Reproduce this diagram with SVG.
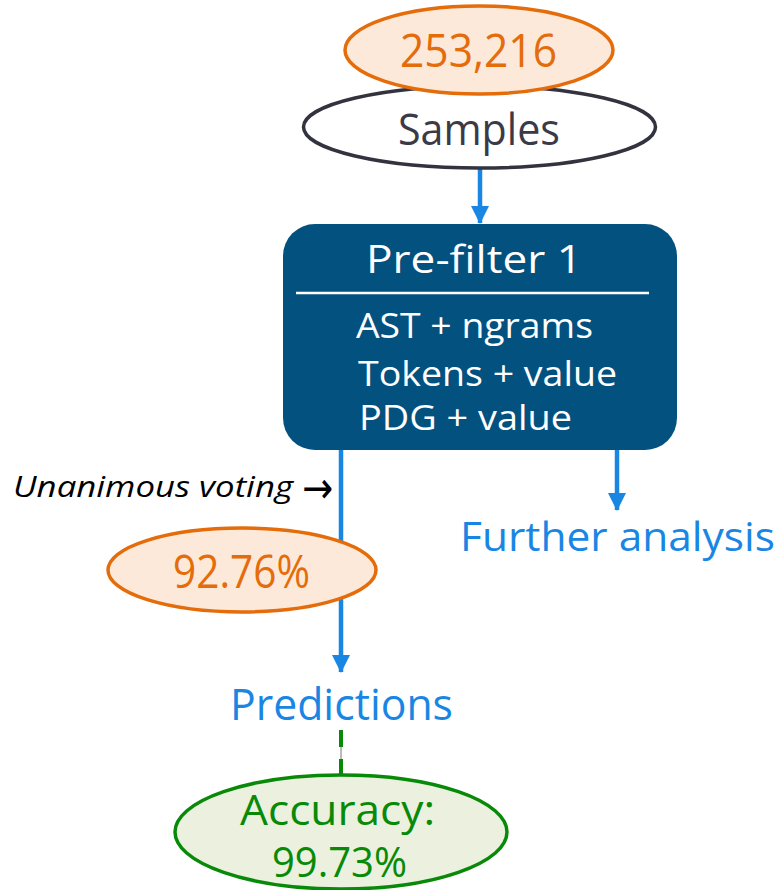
<svg xmlns="http://www.w3.org/2000/svg" width="782" height="890" viewBox="0 0 782 890">
<style>
text{font-family:"Open Sans","Liberation Sans",sans-serif;}
.or{fill:#fde9d9;stroke:#e46c0a;stroke-width:3.5;}
.ort{fill:#e46c0a;}
.blue{stroke:#1a86e4;stroke-width:4.5;fill:none;}
.bt{fill:#1a86e4;}
.wt{fill:#ffffff;}
</style>
<defs>
<marker id="ah" markerUnits="userSpaceOnUse" markerWidth="18" markerHeight="20" refX="17" refY="9" orient="auto">
<path d="M0,0 L18,9 L0,18 Z" fill="#1a86e4"/>
</marker>
</defs>
<g id="connectors">
<line class="blue" x1="480" y1="168" x2="480" y2="223" marker-end="url(#ah)"/>
<line class="blue" x1="341" y1="449" x2="341" y2="672" marker-end="url(#ah)"/>
<line class="blue" x1="617" y1="449" x2="617" y2="510" marker-end="url(#ah)"/>
<line x1="341" y1="730" x2="341" y2="775" stroke="#777777" stroke-width="1"/>
<line x1="341" y1="730" x2="341" y2="775" stroke="#088a08" stroke-width="4" stroke-dasharray="17 12"/>
</g>
<g id="samples">
<ellipse cx="479.5" cy="127" rx="176" ry="41" fill="#ffffff" stroke="#33333f" stroke-width="3.5"/>
<text x="398" y="145" font-size="44" fill="#3a3a48" textLength="162" lengthAdjust="spacingAndGlyphs">Samples</text>
</g>
<g id="count">
<ellipse class="or" cx="479" cy="50" rx="134" ry="44"/>
<text class="ort" x="400" y="67" font-size="46" textLength="157" lengthAdjust="spacingAndGlyphs">253,216</text>
</g>
<g id="prefilter">
<rect x="283" y="224" width="394" height="226" rx="32" fill="#03517f"/>
<line x1="296" y1="293" x2="649" y2="293" stroke="#ffffff" stroke-width="2.5"/>
<text class="wt" x="366" y="273" font-size="39" textLength="216" lengthAdjust="spacingAndGlyphs">Pre-filter 1</text>
<text class="wt" x="356" y="338" font-size="35" textLength="237" lengthAdjust="spacingAndGlyphs">AST + ngrams</text>
<text class="wt" x="358" y="386" font-size="35" textLength="259" lengthAdjust="spacingAndGlyphs">Tokens + value</text>
<text class="wt" x="359" y="430" font-size="35" textLength="213" lengthAdjust="spacingAndGlyphs">PDG + value</text>
</g>
<g id="voting">
<text x="13" y="497" font-size="30" font-style="italic" fill="#000000" textLength="280" lengthAdjust="spacingAndGlyphs">Unanimous voting</text>
<text x="302" y="503" font-size="44" fill="#000000" style="font-family:'DejaVu Sans',sans-serif" textLength="31" lengthAdjust="spacingAndGlyphs">→</text>
</g>
<g id="further">
<text class="bt" x="460" y="551" font-size="40" textLength="315" lengthAdjust="spacingAndGlyphs">Further analysis</text>
</g>
<g id="rate">
<ellipse class="or" cx="242" cy="570" rx="134" ry="42"/>
<text class="ort" x="173" y="588" font-size="46" textLength="137" lengthAdjust="spacingAndGlyphs">92.76%</text>
</g>
<g id="predictions">
<text class="bt" x="230" y="720" font-size="43" textLength="223" lengthAdjust="spacingAndGlyphs">Predictions</text>
</g>
<g id="accuracy">
<ellipse cx="341" cy="832" rx="166" ry="57" fill="#ebf1de" stroke="#088a08" stroke-width="3.5"/>
<text x="240" y="825" font-size="42" fill="#088a08" textLength="195" lengthAdjust="spacingAndGlyphs">Accuracy:</text>
<text x="272" y="877" font-size="42" fill="#088a08" textLength="135" lengthAdjust="spacingAndGlyphs">99.73%</text>
</g>
</svg>
